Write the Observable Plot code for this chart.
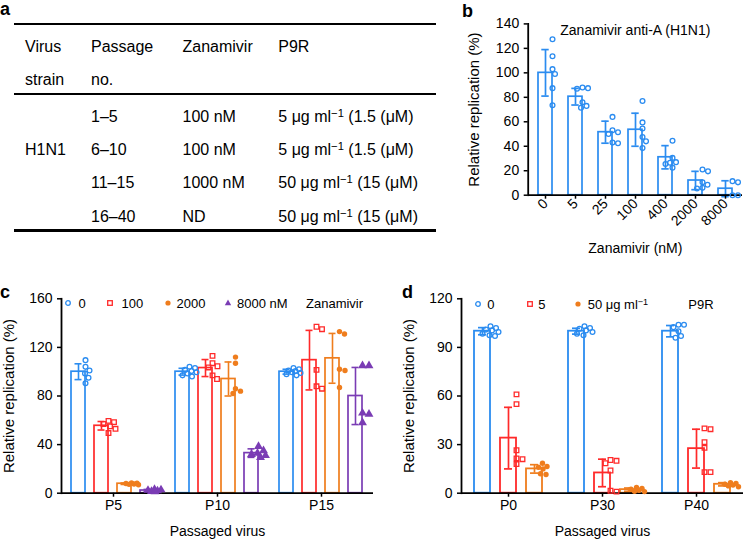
<!DOCTYPE html>
<html>
<head>
<meta charset="utf-8">
<script src="https://cdn.jsdelivr.net/npm/d3@7"></script>
<script src="https://cdn.jsdelivr.net/npm/@observablehq/plot@0.6"></script>
<style>
  body { margin: 0; background: #fff; }
  #fig { position: relative; width: 745px; height: 539px; overflow: hidden; background: #fff;
         font-family: 'Liberation Sans', Arial, Helvetica, sans-serif; color: #000; }
  .plab { position: absolute; font-weight: bold; font-size: 18px; line-height: 18px; }
  .tcell { position: absolute; font-size: 16px; line-height: 16px; white-space: nowrap; }
  .trule { position: absolute; left: 14px; width: 422px; height: 2.3px; background: #000; }
  .leg { position: absolute; font-size: 13px; line-height: 13px; white-space: nowrap; }
  sup.s { font-size: 70%; vertical-align: 0.45em; line-height: 0; }
  svg g[aria-label="y-axis label"] { font-size: 15px; }
  svg g[aria-label="y-axis tick label"] { font-size: 14px; }
</style>
</head>
<body>
<div id="fig"></div>
<script>
// ---------------- data ----------------
// Panel a (table)
const tableHead1 = ["Virus", "Passage", "Zanamivir", "P9R"];
const tableHead2 = ["strain", "no.", "", ""];
const tableStrain = "H1N1";
const tablePassage = ["1–5", "6–10", "11–15", "16–40"];
const tableZanamivir = ["100 nM", "100 nM", "1000 nM", "ND"];
const tableP9RDose = ["5", "5", "50", "50"];
const tableP9RMolar = ["1.5", "1.5", "15", "15"];

// Panel b
const bTitle = "Zanamivir anti-A (H1N1)";
const bConc = ["0", "5", "25", "100", "400", "2000", "8000"];
const bMean = [100, 80.5, 51.5, 53.5, 31, 12, 5.3];
const bSD = [19, 6.8, 9, 13.5, 9.5, 7.5, 6.5];
const bPoints = [
  [127.5, 113.5, 103, 99, 87.5, 73.5],
  [88, 87.5, 87, 76, 73, 71.5],
  [64, 53, 51.5, 50, 43, 42.5],
  [77, 59.5, 54.5, 47.5, 44, 38.5],
  [44.5, 30.5, 27, 26.5, 25.5, 22.5],
  [21, 19.5, 10.5, 8.5, 6, 5.5],
  [11.5, 10.5, 0, 0]
];
const bTicks = [0, 20, 40, 60, 80, 100, 120, 140];

// Panel c
const cGroups = ["P5", "P10", "P15"];
const cSeries = ["0", "100", "2000", "8000"];
const cLegend = ["0", "100", "2000", "8000 nM"];
const cMean = [[100, 55.5, 7.8, 2.2], [100, 103, 94, 33], [100, 109.5, 111, 80]];
const cSD = [[6.5, 3.5, 0.6, 0.9], [2.8, 7, 14, 3.5], [2, 24.5, 20.5, 23.5]];
const cP5 = [
  [109.5, 104, 101, 98.5, 95, 90.5],
  [59.5, 58.5, 57, 55, 53, 49.5],
  [8.5, 8.2, 8, 7.6, 7.3, 7],
  [3.2, 2.8, 2.4, 2, 1.5, 1.2]
];
const cP10 = [
  [104, 103, 101.5, 100.5, 99.5, 98.5, 97, 96],
  [113, 107, 104.5, 103.5, 97, 94],
  [112, 107, 86, 84, 82],
  [38.5, 35, 33, 32, 31, 29.5]
];
const cP15 = [
  [103, 102, 101, 100.5, 99.5, 99, 98, 97],
  [137, 135, 101.5, 88, 86],
  [133, 131, 102, 101, 87],
  [105, 105, 66, 65, 58]
];
const cTicks = [0, 40, 80, 120, 160];

// Panel d
const dGroups = ["P0", "P30", "P40"];
const dSeries = ["0", "5", "50"];
const dMean = [[100, 34, 15], [100, 12.5, 2.2], [100, 27.5, 5.5]];
const dSD = [[2.2, 19, 2.6], [1.8, 8.5, 1], [3.5, 12, 1]];
const dP0 = [
  [103, 102, 101, 100.5, 99.5, 98.5, 97.5, 97],
  [61, 55, 26.5, 21.5, 21, 18],
  [18.5, 16.5, 16, 15, 12, 11.5]
];
const dP30 = [
  [103, 102, 101.5, 100.5, 99.5, 98.5, 97.5],
  [20.5, 20, 18.5, 14, 1.5, 1],
  [3.5, 3, 2.5, 1.8, 1.2, 1]
];
const dP40 = [
  [104, 104, 102.5, 100, 97, 96],
  [40, 39.5, 31.5, 28, 13, 13],
  [6.5, 6, 5.5, 5, 4.5, 4]
];
const dTicks = [0, 30, 60, 90, 120];

// ---------------- style ----------------
const FONT = "'Liberation Sans', Arial, Helvetica, sans-serif";
const BLUE = "#2b8cf0", RED = "#ff2a2a", ORANGE = "#ef7d1d", PURPLE = "#7a3cb4";
const AXW = 1.8;

const fig = document.getElementById("fig");
function put(node, left, top) {
  node.style.position = "absolute";
  node.style.left = left + "px";
  node.style.top = top + "px";
  fig.appendChild(node);
  return node;
}
function div(cls, html, left, top) {
  const d = document.createElement("div");
  d.className = cls; d.innerHTML = html;
  return put(d, left, top);
}

// beeswarm placement of replicate points inside each band (like a scatter dot plot)
function swarmDot(data, options) {
  const {r = 2.5, sep = 5.5, ...rest} = options;
  return Plot.dot(data, Plot.initializer({...rest, r}, (data, facets, channels, scales) => {
    const X = channels.x.value, Y = channels.y.value;
    const sx = scales.x, sy = scales.y;
    const bw = typeof sx.bandwidth === "function" ? sx.bandwidth() : (+sx.bandwidth || 0);
    const n = X.length;
    const PX = new Float64Array(n), PY = new Float64Array(n);
    const lim = bw / 2;
    for (const facet of facets) {
      for (const [key, idx] of d3.group(facet, (i) => X[i])) {
        const cx = sx(key) + bw / 2;
        const placed = [];
        const order = Array.from(idx).sort((a, b) => Y[b] - Y[a]);
        for (const i of order) {
          const py = sy(Y[i]);
          let chosen = null, bestOff = 0, bestD = -1;
          for (let s = 0; s <= 200; s++) {
            const off = (s % 2 ? 1 : -1) * Math.ceil(s / 2) * 0.5;
            if (Math.abs(off) > lim) break;
            let md = Infinity;
            for (const [qx, qy] of placed) md = Math.min(md, Math.hypot(qx - (cx + off), qy - py));
            if (md >= sep) { chosen = off; break; }
            if (md > bestD) { bestD = md; bestOff = off; }
          }
          if (chosen === null) chosen = bestOff;
          PX[i] = cx + chosen; PY[i] = py;
          placed.push([cx + chosen, py]);
        }
      }
    }
    return {data, facets, channels: {x: {value: PX}, y: {value: PY}}};
  }));
}

function errorMarks(rows, opts) {
  const {inset, ...o} = opts;
  return [
    Plot.ruleX(rows, {...o, y1: (d) => d.mean - d.sd, y2: (d) => d.mean + d.sd}),
    Plot.tickY(rows, {...o, y: (d) => d.mean + d.sd, insetLeft: inset, insetRight: inset}),
    Plot.tickY(rows, {...o, y: (d) => d.mean - d.sd, insetLeft: inset, insetRight: inset})
  ];
}

const dotStyles = {
  openCircle: (c) => ({symbol: "circle", r: 2.4, stroke: c, fill: "none", strokeWidth: 1.3, sep: 5.4}),
  openSquare: (c) => ({symbol: "square", r: 2.6, stroke: c, fill: "none", strokeWidth: 1.3, sep: 5.6}),
  filledCircle: (c) => ({symbol: "circle", r: 2.7, fill: c, stroke: "none", sep: 5.4}),
  filledTriangle: (c) => ({symbol: "triangle", r: 3.3, fill: c, stroke: "none", sep: 6.2})
};

// ---------------- panel letters ----------------
div("plab", "a", 0, 0);
div("plab", "b", 462, 1.5);
div("plab", "c", 0, 283);
div("plab", "d", 402, 283);

// ---------------- panel a (table) ----------------
[22.7, 92.7, 229.3].forEach((t) => div("trule", "", 14, t));
const tCols = [25, 91, 182.5, 278.3];
const tBase = (y) => y - 13.5;
tableHead1.forEach((t, j) => div("tcell", t, tCols[j], tBase(52.2)));
tableHead2.forEach((t, j) => t && div("tcell", t, tCols[j], tBase(85.5)));
const rowBase = [122.2, 155.5, 188.8, 222.3];
div("tcell", tableStrain, tCols[0], tBase(rowBase[1]));
tablePassage.forEach((p, i) => {
  div("tcell", p, tCols[1], tBase(rowBase[i]));
  div("tcell", tableZanamivir[i], tCols[2], tBase(rowBase[i]));
  div("tcell", `${tableP9RDose[i]} μg ml<sup class="s">−1</sup> (${tableP9RMolar[i]} (μM)`, tCols[3], tBase(rowBase[i]));
});

// ---------------- panel b ----------------
const bBars = bConc.map((c, i) => ({conc: c, mean: bMean[i], sd: bSD[i]}));
const bDots = bConc.flatMap((c, i) => bPoints[i].map((v) => ({conc: c, value: v})));
const plotB = Plot.plot({
  width: 285, height: 262,
  marginLeft: 67.7, marginRight: 3, marginTop: 23.4, marginBottom: 67.3,
  style: {fontFamily: FONT, fontSize: "14px", background: "transparent", overflow: "visible"},
  x: {domain: bConc, paddingInner: 0.53, paddingOuter: 0.25},
  y: {domain: [0, 140]},
  marks: [
    Plot.barY(bBars, {x: "conc", y: "mean", fill: "white", stroke: BLUE, strokeWidth: 1.7}),
    ...errorMarks(bBars, {x: "conc", stroke: BLUE, strokeWidth: 1.7, inset: 3.3}),
    Plot.ruleY([0], {strokeWidth: AXW}),
    Plot.frame({anchor: "left", strokeWidth: AXW}),
    Plot.axisY({ticks: bTicks, tickSize: 4, tickPadding: 5, strokeWidth: 1.5,
      label: "Relative replication (%)", labelAnchor: "center", labelArrow: "none", labelOffset: 60}),
    Plot.axisX({tickRotate: -45, tickSize: 4, tickPadding: 2, strokeWidth: 1.5,
      label: "Zanamivir (nM)", labelAnchor: "center", labelArrow: "none", labelOffset: 58}),
    Plot.text([bTitle], {frameAnchor: "top", dy: 1.5, fontSize: 14}),
    swarmDot(bDots, {x: "conc", y: "value", ...dotStyles.openCircle(BLUE)})
  ]
});
put(plotB, 460, 0);

// ---------------- panel c ----------------
const cColors = [BLUE, RED, ORANGE, PURPLE];
const cPts = [cP5, cP10, cP15];
const cBars = cGroups.flatMap((g, gi) => cSeries.map((s, si) => ({group: g, series: s, mean: cMean[gi][si], sd: cSD[gi][si]})));
const cDots = cGroups.flatMap((g, gi) => cSeries.flatMap((s, si) => cPts[gi][si].map((v) => ({group: g, series: s, value: v}))));
const cDotStyle = [dotStyles.openCircle(BLUE), dotStyles.openSquare(RED), dotStyles.filledCircle(ORANGE), dotStyles.filledTriangle(PURPLE)];
const plotC = Plot.plot({
  width: 380, height: 259,
  marginLeft: 60, marginRight: 6, marginTop: 18.3, marginBottom: 46.3,
  style: {fontFamily: FONT, fontSize: "14px", background: "transparent", overflow: "visible"},
  fx: {domain: cGroups, padding: 0},
  x: {domain: cSeries, paddingInner: 0.37, paddingOuter: 0.42, axis: null},
  y: {domain: [0, 160]},
  color: {domain: cSeries, range: cColors},
  marks: [
    Plot.barY(cBars, {fx: "group", x: "series", y: "mean", fill: "white", stroke: "series", strokeWidth: 1.7}),
    ...errorMarks(cBars, {fx: "group", x: "series", stroke: "series", strokeWidth: 1.6, inset: 3.5}),
    Plot.ruleY([0], {strokeWidth: AXW}),
    Plot.frame({anchor: "left", facetAnchor: "left", strokeWidth: AXW}),
    Plot.axisY({ticks: cTicks, tickSize: 4, tickPadding: 5, strokeWidth: 1.5,
      label: "Relative replication (%)", labelAnchor: "center", labelArrow: "none", labelOffset: 58}),
    Plot.axisFx({anchor: "bottom", tickSize: 4, tickPadding: 3, strokeWidth: 1.5,
      label: "Passaged virus", labelAnchor: "center", labelArrow: "none", labelOffset: 43}),
    ...cSeries.map((s, si) => swarmDot(cDots.filter((d) => d.series === s),
      {fx: "group", x: "series", y: "value", ...cDotStyle[si]}))
  ]
});
put(plotC, 0, 280);

// ---------------- panel d ----------------
const dColors = [BLUE, RED, ORANGE];
const dPts = [dP0, dP30, dP40];
const dBars = dGroups.flatMap((g, gi) => dSeries.map((s, si) => ({group: g, series: s, mean: dMean[gi][si], sd: dSD[gi][si]})));
const dDots = dGroups.flatMap((g, gi) => dSeries.flatMap((s, si) => dPts[gi][si].map((v) => ({group: g, series: s, value: v}))));
const dDotStyle = [dotStyles.openCircle(BLUE), dotStyles.openSquare(RED), dotStyles.filledCircle(ORANGE)];
const plotD = Plot.plot({
  width: 375, height: 259,
  marginLeft: 90, marginRight: 0.5, marginTop: 18.3, marginBottom: 46.3,
  style: {fontFamily: FONT, fontSize: "14px", background: "transparent", overflow: "visible"},
  fx: {domain: dGroups, padding: 0},
  x: {domain: dSeries, paddingInner: 0.375, paddingOuter: 0.49, axis: null},
  y: {domain: [0, 120]},
  color: {domain: dSeries, range: dColors},
  marks: [
    Plot.barY(dBars, {fx: "group", x: "series", y: "mean", fill: "white", stroke: "series", strokeWidth: 1.8}),
    ...errorMarks(dBars, {fx: "group", x: "series", stroke: "series", strokeWidth: 1.7, inset: 4}),
    Plot.ruleY([0], {strokeWidth: AXW}),
    Plot.frame({anchor: "left", facetAnchor: "left", strokeWidth: AXW}),
    Plot.axisY({ticks: dTicks, tickSize: 4, tickPadding: 5, strokeWidth: 1.5,
      label: "Relative replication (%)", labelAnchor: "center", labelArrow: "none", labelOffset: 58}),
    Plot.axisFx({anchor: "bottom", tickSize: 4, tickPadding: 3, strokeWidth: 1.5,
      label: "Passaged virus", labelAnchor: "center", labelArrow: "none", labelOffset: 43}),
    ...dSeries.map((s, si) => swarmDot(dDots.filter((d) => d.series === s),
      {fx: "group", x: "series", y: "value", ...dDotStyle[si]}))
  ]
});
put(plotD, 370, 280);

// ---------------- in-plot legends ----------------
const NS = "http://www.w3.org/2000/svg";
function legSymbol(kind, color, cx, cy) {
  const svg = document.createElementNS(NS, "svg");
  svg.setAttribute("width", 12); svg.setAttribute("height", 12);
  svg.style.overflow = "visible";
  let el;
  if (kind === "openCircle") {
    el = document.createElementNS(NS, "circle");
    el.setAttribute("cx", 6); el.setAttribute("cy", 6); el.setAttribute("r", 2.3);
    el.setAttribute("fill", "none"); el.setAttribute("stroke", color); el.setAttribute("stroke-width", 1.3);
  } else if (kind === "openSquare") {
    el = document.createElementNS(NS, "rect");
    el.setAttribute("x", 3.7); el.setAttribute("y", 3.7); el.setAttribute("width", 4.6); el.setAttribute("height", 4.6);
    el.setAttribute("fill", "none"); el.setAttribute("stroke", color); el.setAttribute("stroke-width", 1.3);
  } else if (kind === "filledCircle") {
    el = document.createElementNS(NS, "circle");
    el.setAttribute("cx", 6); el.setAttribute("cy", 6); el.setAttribute("r", 2.6);
    el.setAttribute("fill", color);
  } else {
    el = document.createElementNS(NS, "path");
    el.setAttribute("d", "M6,2.6L9.2,8.2L2.8,8.2Z");
    el.setAttribute("fill", color);
  }
  svg.appendChild(el);
  put(svg, cx - 6, cy - 6);
}
const symKinds = ["openCircle", "openSquare", "filledCircle", "filledTriangle"];
// panel c legend
const cSymX = [68.3, 110, 168.3, 228.3], cTxtX = [78.5, 121.5, 176.5, 237];
cLegend.forEach((t, i) => {
  legSymbol(symKinds[i], cColors[i], cSymX[i], 303.3);
  div("leg", t, cTxtX[i], 303.3 - 6.5);
});
div("leg", "Zanamivir", 306, 303.3 - 6.5);
// panel d legend
const dLegend = ["0", "5", `50 μg ml<sup class="s">−1</sup>`];
const dSymX = [478.3, 530, 578.3], dTxtX = [487.3, 538.3, 587.7];
dLegend.forEach((t, i) => {
  legSymbol(symKinds[i], dColors[i], dSymX[i], 304.3);
  div("leg", t, dTxtX[i], 304.3 - 6.5);
});
div("leg", "P9R", 688.3, 304.3 - 6.5);
</script>
</body>
</html>
